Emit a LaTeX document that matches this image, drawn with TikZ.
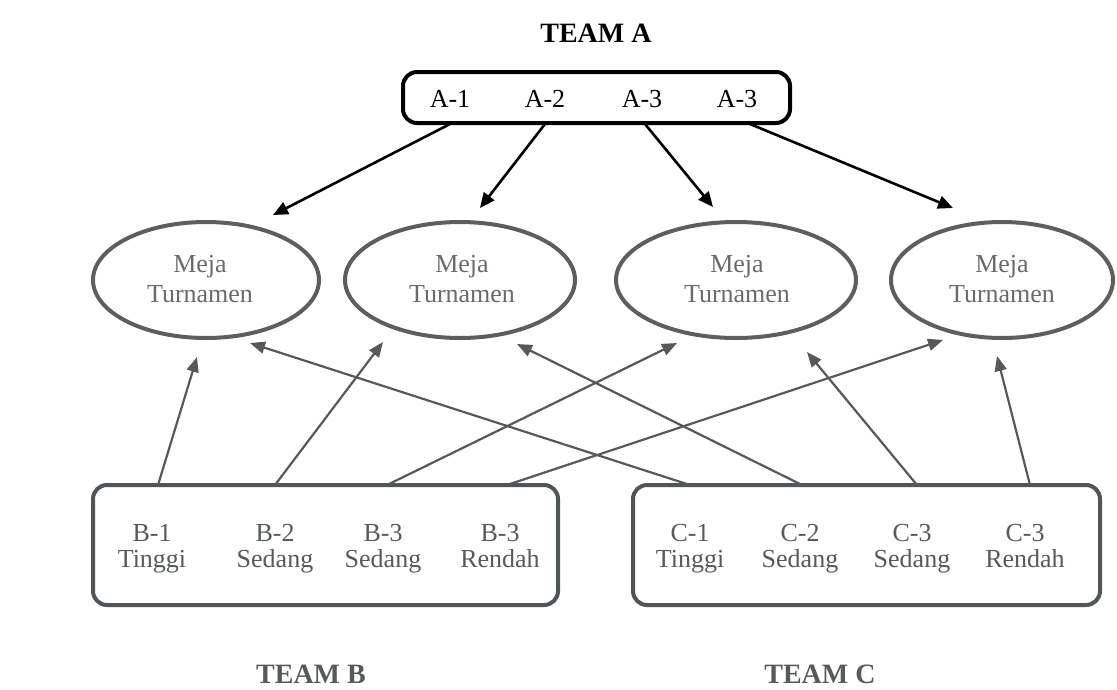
\documentclass[tikz,border=0pt]{standalone}
\usepackage{fontspec}
\setmainfont{Liberation Serif}
\usetikzlibrary{arrows.meta,shapes.geometric}
\definecolor{ellc}{HTML}{5E5E5E}
\definecolor{ellt}{HTML}{6A6A6A}
\definecolor{boxc}{HTML}{505651}
\definecolor{boxt}{HTML}{555B57}
\definecolor{arrc}{HTML}{555A57}
\begin{document}
\begin{tikzpicture}[x=1pt,y=-1pt,
  title/.style={font=\fontsize{28}{30}\selectfont\bfseries, inner sep=0, anchor=base},
  lbl/.style={font=\fontsize{26}{27}\selectfont, inner sep=0, anchor=base},
  mejabox/.style={ellipse, draw=ellc, line width=4pt, minimum width=226pt, minimum height=116pt, inner sep=0},
  mejatxt/.style={lbl, text=ellt},
  teambox/.style={draw, line width=4pt, rounded corners=14pt, inner sep=0},
  toparr/.style={line width=2.6pt, draw=black, -{Triangle[length=15pt,width=13pt]}},
  botarr/.style={line width=2.2pt, draw=arrc, -{Triangle[length=15pt,width=12pt]}}
]
\useasboundingbox (0,0) rectangle (1117,689);

% Team A
\node[title] (ta) at (596,42) {TEAM A};
\node[teambox, draw=black, minimum width=387pt, minimum height=51pt] (abox) at (596.5,97.5) {};
\node[lbl] (a1) at (450,107) {A-1};
\node[lbl] (a2) at (545,107) {A-2};
\node[lbl] (a3) at (642,107) {A-3};
\node[lbl] (a4) at (737,107) {A-3};

% Tables
\node[mejabox] (e1) at (206,280) {};
\node[mejabox, minimum width=230pt] (e2) at (460,280) {};
\node[mejabox, minimum width=240pt] (e3) at (736,280) {};
\node[mejabox, minimum width=222pt] (e4) at (1002,280) {};
\foreach \i/\x in {1/200,2/462,3/737,4/1002}{
  \node[mejatxt] (m\i) at (\x,272.7) {Meja};
  \node[mejatxt] (t\i) at (\x,302.7) {Turnamen};
}

% Team B
\node[teambox, draw=boxc, minimum width=465pt, minimum height=120pt] (bbox) at (325.5,545) {};
\node[lbl, text=boxt] (b1) at (152,541) {B-1};
\node[lbl, text=boxt] (b1l) at (152,567) {Tinggi};
\node[lbl, text=boxt] (b2) at (275,541) {B-2};
\node[lbl, text=boxt] (b2l) at (275,567) {Sedang};
\node[lbl, text=boxt] (b3) at (383,541) {B-3};
\node[lbl, text=boxt] (b3l) at (383,567) {Sedang};
\node[lbl, text=boxt] (b4) at (500,541) {B-3};
\node[lbl, text=boxt] (b4l) at (500,567) {Rendah};
\node[title, text=boxt] (tb) at (311,683) {TEAM B};

% Team C
\node[teambox, draw=boxc, minimum width=467pt, minimum height=120pt] (cbox) at (866.5,545) {};
\node[lbl, text=boxt] (c1) at (690,541) {C-1};
\node[lbl, text=boxt] (c1l) at (690,567) {Tinggi};
\node[lbl, text=boxt] (c2) at (800,541) {C-2};
\node[lbl, text=boxt] (c2l) at (800,567) {Sedang};
\node[lbl, text=boxt] (c3) at (912,541) {C-3};
\node[lbl, text=boxt] (c3l) at (912,567) {Sedang};
\node[lbl, text=boxt] (c4) at (1025,541) {C-3};
\node[lbl, text=boxt] (c4l) at (1025,567) {Rendah};
\node[title, text=boxt] (tc) at (820,683) {TEAM C};

% arrow targets
\coordinate (ta1) at (273,215);
\coordinate (ta2) at (480,208);
\coordinate (ta3) at (713,207);
\coordinate (ta4) at (953,208);
\coordinate (tb1) at (197,357);
\coordinate (tb2) at (383,342);
\coordinate (tb3) at (677,343);
\coordinate (tb4) at (943,340);
\coordinate (tc1) at (250,343);
\coordinate (tc2) at (517,344);
\coordinate (tc3) at (807,352);
\coordinate (tc4) at (997,356);

% arrows from Team A
\draw[toparr] (450,124) coordinate (sa1) -- (ta1);
\draw[toparr] (545,124) coordinate (sa2) -- (ta2);
\draw[toparr] (645,124) coordinate (sa3) -- (ta3);
\draw[toparr] (750,124) coordinate (sa4) -- (ta4);

% arrows from Team B and C
\draw[botarr] (158,485) coordinate (sb1) -- (tb1);
\draw[botarr] (275,485) coordinate (sb2) -- (tb2);
\draw[botarr] (387,485) coordinate (sb3) -- (tb3);
\draw[botarr] (507,485) coordinate (sb4) -- (tb4);
\draw[botarr] (690,485) coordinate (sc1) -- (tc1);
\draw[botarr] (802,485) coordinate (sc2) -- (tc2);
\draw[botarr] (917,485) coordinate (sc3) -- (tc3);
\draw[botarr] (1030,485) coordinate (sc4) -- (tc4);
\end{tikzpicture}
\end{document}
